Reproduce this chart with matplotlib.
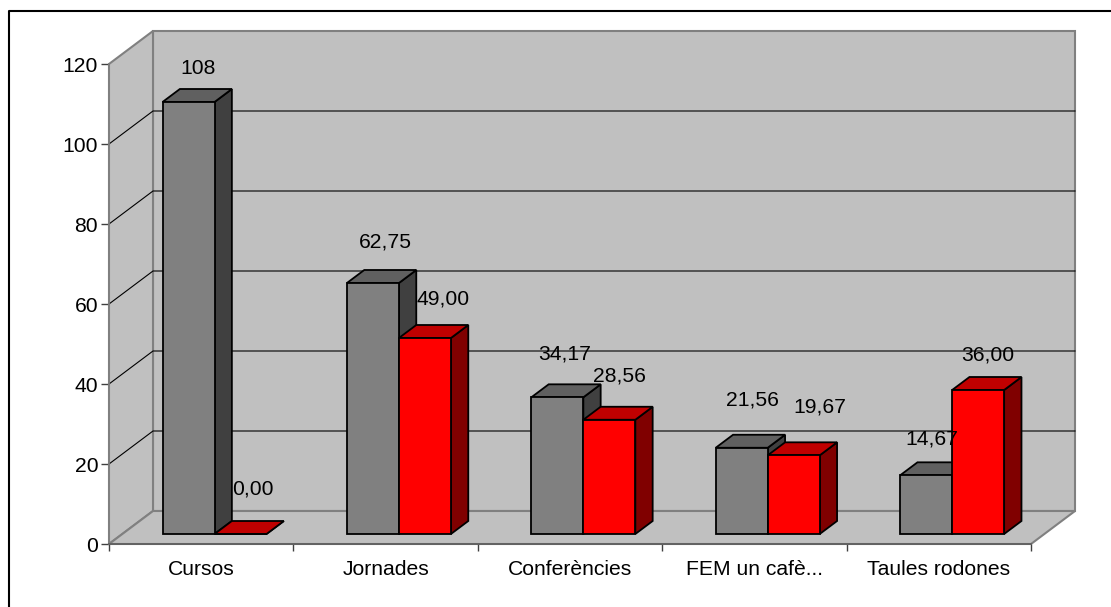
import matplotlib

matplotlib.use("Agg")
import matplotlib.pyplot as plt
from matplotlib.lines import Line2D
from matplotlib.patches import Polygon

categories = ["Cursos", "Jornades", "Conferències", "FEM un cafè...", "Taules rodones"]
grey_values = [108, 62.75, 34.17, 21.56, 14.67]
red_values = [0.00, 49.00, 28.56, 19.67, 36.00]
grey_labels = ["108", "62,75", "34,17", "21,56", "14,67"]
red_labels = ["0,00", "49,00", "28,56", "19,67", "36,00"]
y_ticks = [0, 20, 40, 60, 80, 100, 120]

# label offsets from the back edge of each bar top, in pixels
GREY_NUDGE = [(-8, 21), (-5, 28), (-10, 30), (-7, 35), (-12, 23)]
RED_NUDGE = [(-5, 32), (1, 26), (-7, 31), (9, 35), (-8, 22)]

W, H = 1111, 607
# front plane of the 3D box, in pixels
LEFT, RIGHT, TOP, BOTTOM = 109, 1031, 64, 544
YMAX = 120

# depth of the box in data units (one category = 184.4 px, one unit = 4 px)
DX = 44 / ((RIGHT - LEFT) / len(categories))
DY = 33 / ((BOTTOM - TOP) / YMAX)
BAR_W = 52 / ((RIGHT - LEFT) / len(categories))
D0, D1 = 10 / 33, 23 / 33

WALL = "#C0C0C0"
WALL_EDGE = "#808080"
GREY = ("#808080", "#606060", "#404040")
RED = ("#FF0000", "#C00000", "#800000")

plt.rcParams["font.family"] = ["Liberation Sans", "DejaVu Sans"]
FONT = 15.2


def project(x, v, d):
    return (x + d * DX, v + d * DY)


def add_poly(ax, points, face, edge, lw=1.0, z=1):
    ax.add_patch(Polygon(points, closed=True, facecolor=face, edgecolor=edge,
                         linewidth=lw, zorder=z, clip_on=False, joinstyle="miter"))


def draw_bar(ax, x0, value, colors, z):
    x1 = x0 + BAR_W
    front = [project(x0, 0, D0), project(x1, 0, D0), project(x1, value, D0), project(x0, value, D0)]
    top = [project(x0, value, D0), project(x1, value, D0), project(x1, value, D1), project(x0, value, D1)]
    side = [project(x1, 0, D0), project(x1, 0, D1), project(x1, value, D1), project(x1, value, D0)]
    add_poly(ax, side, colors[2], "black", 1.3, z)
    add_poly(ax, top, colors[1], "black", 1.3, z)
    add_poly(ax, front, colors[0], "black", 1.3, z)


def bar_label(ax, x0, value, text, nudge):
    anchor = project(x0 + BAR_W / 2, value, D1)
    ax.annotate(text, anchor, xytext=(nudge[0] * 0.72, nudge[1] * 0.72), textcoords="offset points",
                ha="center", va="center", fontsize=FONT, color="black", zorder=20,
                annotation_clip=False)


fig = plt.figure(figsize=(W / 100, H / 100), dpi=100)
# only the top and left edges of the outer frame show
fig.add_artist(Line2D([8.5 / W, 8.5 / W, 1], [0, 1 - 10.5 / H, 1 - 10.5 / H], transform=fig.transFigure,
                      color="black", linewidth=1.5, zorder=-1))

ax = fig.add_axes([LEFT / W, 1 - BOTTOM / H, (RIGHT - LEFT) / W, (BOTTOM - TOP) / H])
ax.patch.set_visible(False)
n = len(categories)
ax.set_xlim(0, n)
ax.set_ylim(0, YMAX)
for side in ("top", "right"):
    ax.spines[side].set_visible(False)
ax.spines["left"].set_color("#808080")
ax.spines["left"].set_linewidth(1.3)
ax.spines["bottom"].set_color("#606060")
ax.spines["bottom"].set_linewidth(1.3)
ax.spines["left"].set_zorder(2.5)
ax.spines["bottom"].set_zorder(2.5)

# walls and floor
add_poly(ax, [project(0, 0, 1), project(n, 0, 1), project(n, YMAX, 1), project(0, YMAX, 1)], WALL, WALL_EDGE, 1.5, 1)
add_poly(ax, [project(0, 0, 0), project(0, 0, 1), project(0, YMAX, 1), project(0, YMAX, 0)], WALL, WALL_EDGE, 1.5, 1)
add_poly(ax, [project(0, 0, 0), project(n, 0, 0), project(n, 0, 1), project(0, 0, 1)], WALL, WALL_EDGE, 1.5, 1)

for v in y_ticks[1:-1]:
    xs, ys = zip(project(0, v, 0), project(0, v, 1), project(n, v, 1))
    ax.plot(xs, ys, color="black", linewidth=0.8, zorder=2, clip_on=False)

ax.set_yticks(y_ticks)
ax.set_xticks(range(n + 1))
ax.set_xticklabels([])
ax.tick_params(axis="y", length=5.8, width=1.0, color="#404040", labelsize=FONT, pad=2)
ax.tick_params(axis="x", length=5, width=1.0, color="#404040", direction="out")

for i, name in enumerate(categories):
    ax.text(i + 0.5, -6.45, name, ha="center", va="center", fontsize=FONT, color="black")

    gx = i + 0.5 - BAR_W
    draw_bar(ax, gx, grey_values[i], GREY, 3 + i)
    draw_bar(ax, gx + BAR_W, red_values[i], RED, 3.5 + i)

    bar_label(ax, gx, grey_values[i], grey_labels[i], GREY_NUDGE[i])
    bar_label(ax, gx + BAR_W, red_values[i], red_labels[i], RED_NUDGE[i])

fig.savefig("out.png", dpi=100)
